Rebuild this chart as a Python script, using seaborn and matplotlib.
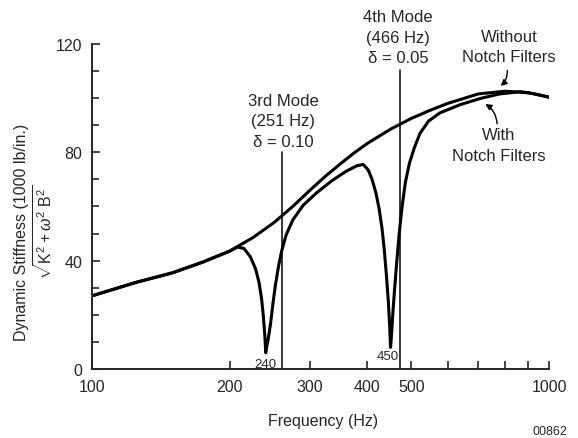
import matplotlib
matplotlib.use("Agg")
import matplotlib.pyplot as plt
import seaborn as sns
from matplotlib.ticker import FixedLocator, MultipleLocator, NullLocator

# ------------------------------------------------------------
# Data
# ------------------------------------------------------------
without_hz = [100, 125, 150, 175, 200, 225, 250, 275, 300, 325, 350, 375,
              400, 450, 500, 550, 600, 700, 800, 900, 1000]
without_k = [27, 32, 35.5, 39.5, 43.5, 48.5, 54, 60, 66, 71.3, 75.8, 79.8,
             83.2, 88.5, 92.5, 95.5, 98, 101.5, 102.5, 102, 100.3]

with_hz = [100, 125, 150, 175, 200, 208, 215, 222, 228, 232, 235, 237, 239,
           240, 241, 243, 246, 249, 252, 256, 260, 266, 275, 290, 310, 335,
           360, 380, 392, 402, 410, 418, 425, 431, 436, 441, 445, 448, 450,
           452, 455, 459, 464, 470, 477, 485, 495, 507, 522, 545, 577, 638,
           706, 780, 864, 930, 1000]
with_k = [27, 32, 35.5, 39.5, 43.5, 45, 44.5, 41.5, 37, 32, 26, 20, 12,
          6, 8, 11, 17, 24.5, 31, 38, 43.5, 49.5, 55, 60.5, 65, 69.5,
          73, 75, 75.5, 73.5, 70, 65, 59, 52, 44, 34, 25, 16, 8,
          12, 20, 29, 39, 50, 60, 69, 76, 81.5, 87, 91.5, 94.5, 97.5,
          99.8, 101.5, 102.3, 101.5, 100.3]

mode_hz = [261, 473]
mode_top = [80, 110.5]
mode_labels = ["3rd Mode\n(251 Hz)\nδ = 0.10", "4th Mode\n(466 Hz)\nδ = 0.05"]
mode_label_pos = [(262, 91.6), (467, 122.4)]

dip_labels = ["240", "450"]
dip_label_pos = [(239, 1.9), (443, 4.9)]

x_ticks = [100, 200, 300, 400, 500, 600, 700, 800, 900, 1000]
x_ticklabels = ["100", "200", "300", "400", "500", "", "", "", "", "1000"]
y_ticks = [0, 40, 80, 120]

# ------------------------------------------------------------
# Plot
# ------------------------------------------------------------
sns.set_style("ticks")
plt.rcParams["font.family"] = ["Liberation Sans", "DejaVu Sans"]
plt.rcParams["mathtext.fontset"] = "custom"
plt.rcParams["mathtext.rm"] = "Liberation Sans"
plt.rcParams["mathtext.it"] = "Liberation Sans:italic"

fig = plt.figure(figsize=(5.78, 4.39), dpi=100)
ax = fig.add_axes([0.159, 0.157, 0.791, 0.741])

sns.lineplot(x=without_hz, y=without_k, ax=ax, color="black", lw=2.2)
sns.lineplot(x=with_hz, y=with_k, ax=ax, color="black", lw=2.2)

for f, top in zip(mode_hz, mode_top):
    ax.plot([f, f], [0.5, top], color="black", lw=1.1)

for txt, (x, y) in zip(mode_labels, mode_label_pos):
    ax.text(x, y, txt, ha="center", va="center", fontsize=12, linespacing=1.45)

for txt, (x, y) in zip(dip_labels, dip_label_pos):
    ax.text(x, y, txt, ha="center", va="center", fontsize=9.5)

ax.text(817, 119, "Without\nNotch Filters", ha="center", va="center",
        fontsize=12, linespacing=1.45)
ax.text(777, 82.7, "With\nNotch Filters", ha="center", va="center",
        fontsize=12, linespacing=1.45)
ax.annotate("", xy=(775, 103.8), xytext=(809, 111.2),
            arrowprops=dict(arrowstyle="-|>", color="black", lw=1,
                            mutation_scale=9, connectionstyle="arc3,rad=-0.3"))
ax.annotate("", xy=(717, 98.3), xytext=(770, 89.5),
            arrowprops=dict(arrowstyle="-|>", color="black", lw=1,
                            mutation_scale=9, connectionstyle="arc3,rad=0.3"))

ax.set_xscale("log")
ax.set_xlim(100, 1000)
ax.set_ylim(0, 120)
ax.xaxis.set_major_locator(FixedLocator(x_ticks))
ax.xaxis.set_minor_locator(NullLocator())
ax.set_xticklabels(x_ticklabels)
ax.set_yticks(y_ticks)
ax.yaxis.set_minor_locator(MultipleLocator(10))
ax.tick_params(direction="in", labelsize=11.5, width=1.2, length=6, pad=7)
ax.tick_params(which="minor", direction="in", width=1.2, length=5)
sns.despine(ax=ax)
for s in ["left", "bottom"]:
    ax.spines[s].set_linewidth(1.4)
ax.set_xlabel("")
ax.set_ylabel("")

fig.text(0.559, 0.039, "Frequency (Hz)", ha="center", va="center", fontsize=11.5)
fig.text(0.038, 0.4715, "Dynamic Stiffness (1000 lb/in.)", rotation=90,
         ha="center", va="center", fontsize=11.5)
fig.text(0.076, 0.4715, r"$\sqrt{\mathrm{K}^2 + \omega^2\ \mathrm{B}^2}$",
         rotation=90, ha="center", va="center", fontsize=11.5)
fig.text(0.922, 0.003, "00862", ha="left", va="bottom", fontsize=9)

fig.savefig("out.png", dpi=100)
